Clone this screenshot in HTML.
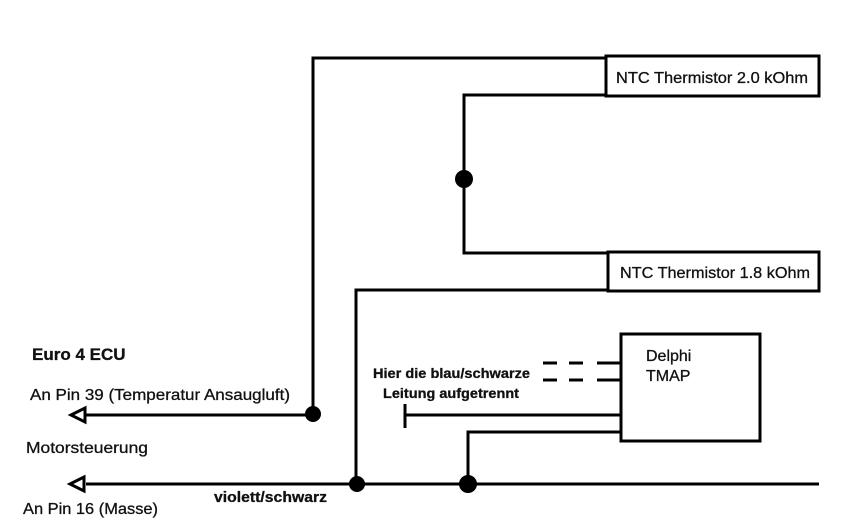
<!DOCTYPE html>
<html><head><style>
body{margin:0;background:#fff;}
svg{display:block}
text{font-family:"Liberation Sans",sans-serif;font-size:16px;fill:#111;stroke:#111;stroke-width:0.3}
</style></head><body>
<svg width="847" height="523" viewBox="0 0 847 523">
<g stroke="#000" stroke-width="3" fill="none">
<polyline points="313,414 313,58 606,58"/>
<rect x="606" y="56" width="213" height="40"/>
<polyline points="606,95 464,95 464,253 608,253"/>
<rect x="608" y="252" width="211" height="39"/>
<polyline points="608,290 356,290 356,484"/>
<line x1="86" y1="415" x2="313" y2="415"/>
<line x1="86" y1="484" x2="819" y2="484"/>
<rect x="621" y="334" width="139" height="107"/>
<line x1="405" y1="415" x2="621" y2="415"/>
<line x1="405" y1="404" x2="405" y2="428"/>
<polyline points="468,484 468,432 621,432"/>
<path d="M543 363h14M569 363h14M597 363h24M543 380h14M569 380h14M597 380h24"/>
<polygon points="71,415 85,408 85,422" fill="#fff"/>
<polygon points="70,484 84,477 84,491" fill="#fff"/>
</g>
<g fill="#000">
<circle cx="464" cy="179" r="9"/>
<circle cx="313" cy="414" r="8"/>
<circle cx="357" cy="484" r="8"/>
<circle cx="468" cy="484" r="9"/>
</g>
<text x="616" y="83" textLength="192" lengthAdjust="spacingAndGlyphs">NTC Thermistor 2.0 kOhm</text>
<text x="620" y="278" textLength="190" lengthAdjust="spacingAndGlyphs">NTC Thermistor 1.8 kOhm</text>
<text x="646" y="361">Delphi</text>
<text x="646" y="381">TMAP</text>
<text x="32" y="360" style="font-weight:bold;font-size:17px">Euro 4 ECU</text>
<text x="30" y="400" textLength="260" lengthAdjust="spacingAndGlyphs">An Pin 39 (Temperatur Ansaugluft)</text>
<text x="26" y="453" textLength="122" lengthAdjust="spacingAndGlyphs">Motorsteuerung</text>
<text x="23" y="514" textLength="135" lengthAdjust="spacingAndGlyphs">An Pin 16 (Masse)</text>
<text x="214" y="502" style="font-weight:bold;font-size:15px" textLength="113" lengthAdjust="spacingAndGlyphs">violett/schwarz</text>
<text x="373" y="378" style="font-weight:bold;font-size:14px" textLength="157" lengthAdjust="spacingAndGlyphs">Hier die blau/schwarze</text>
<text x="383" y="398" style="font-weight:bold;font-size:14px" textLength="136" lengthAdjust="spacingAndGlyphs">Leitung aufgetrennt</text>
</svg>
</body></html>
